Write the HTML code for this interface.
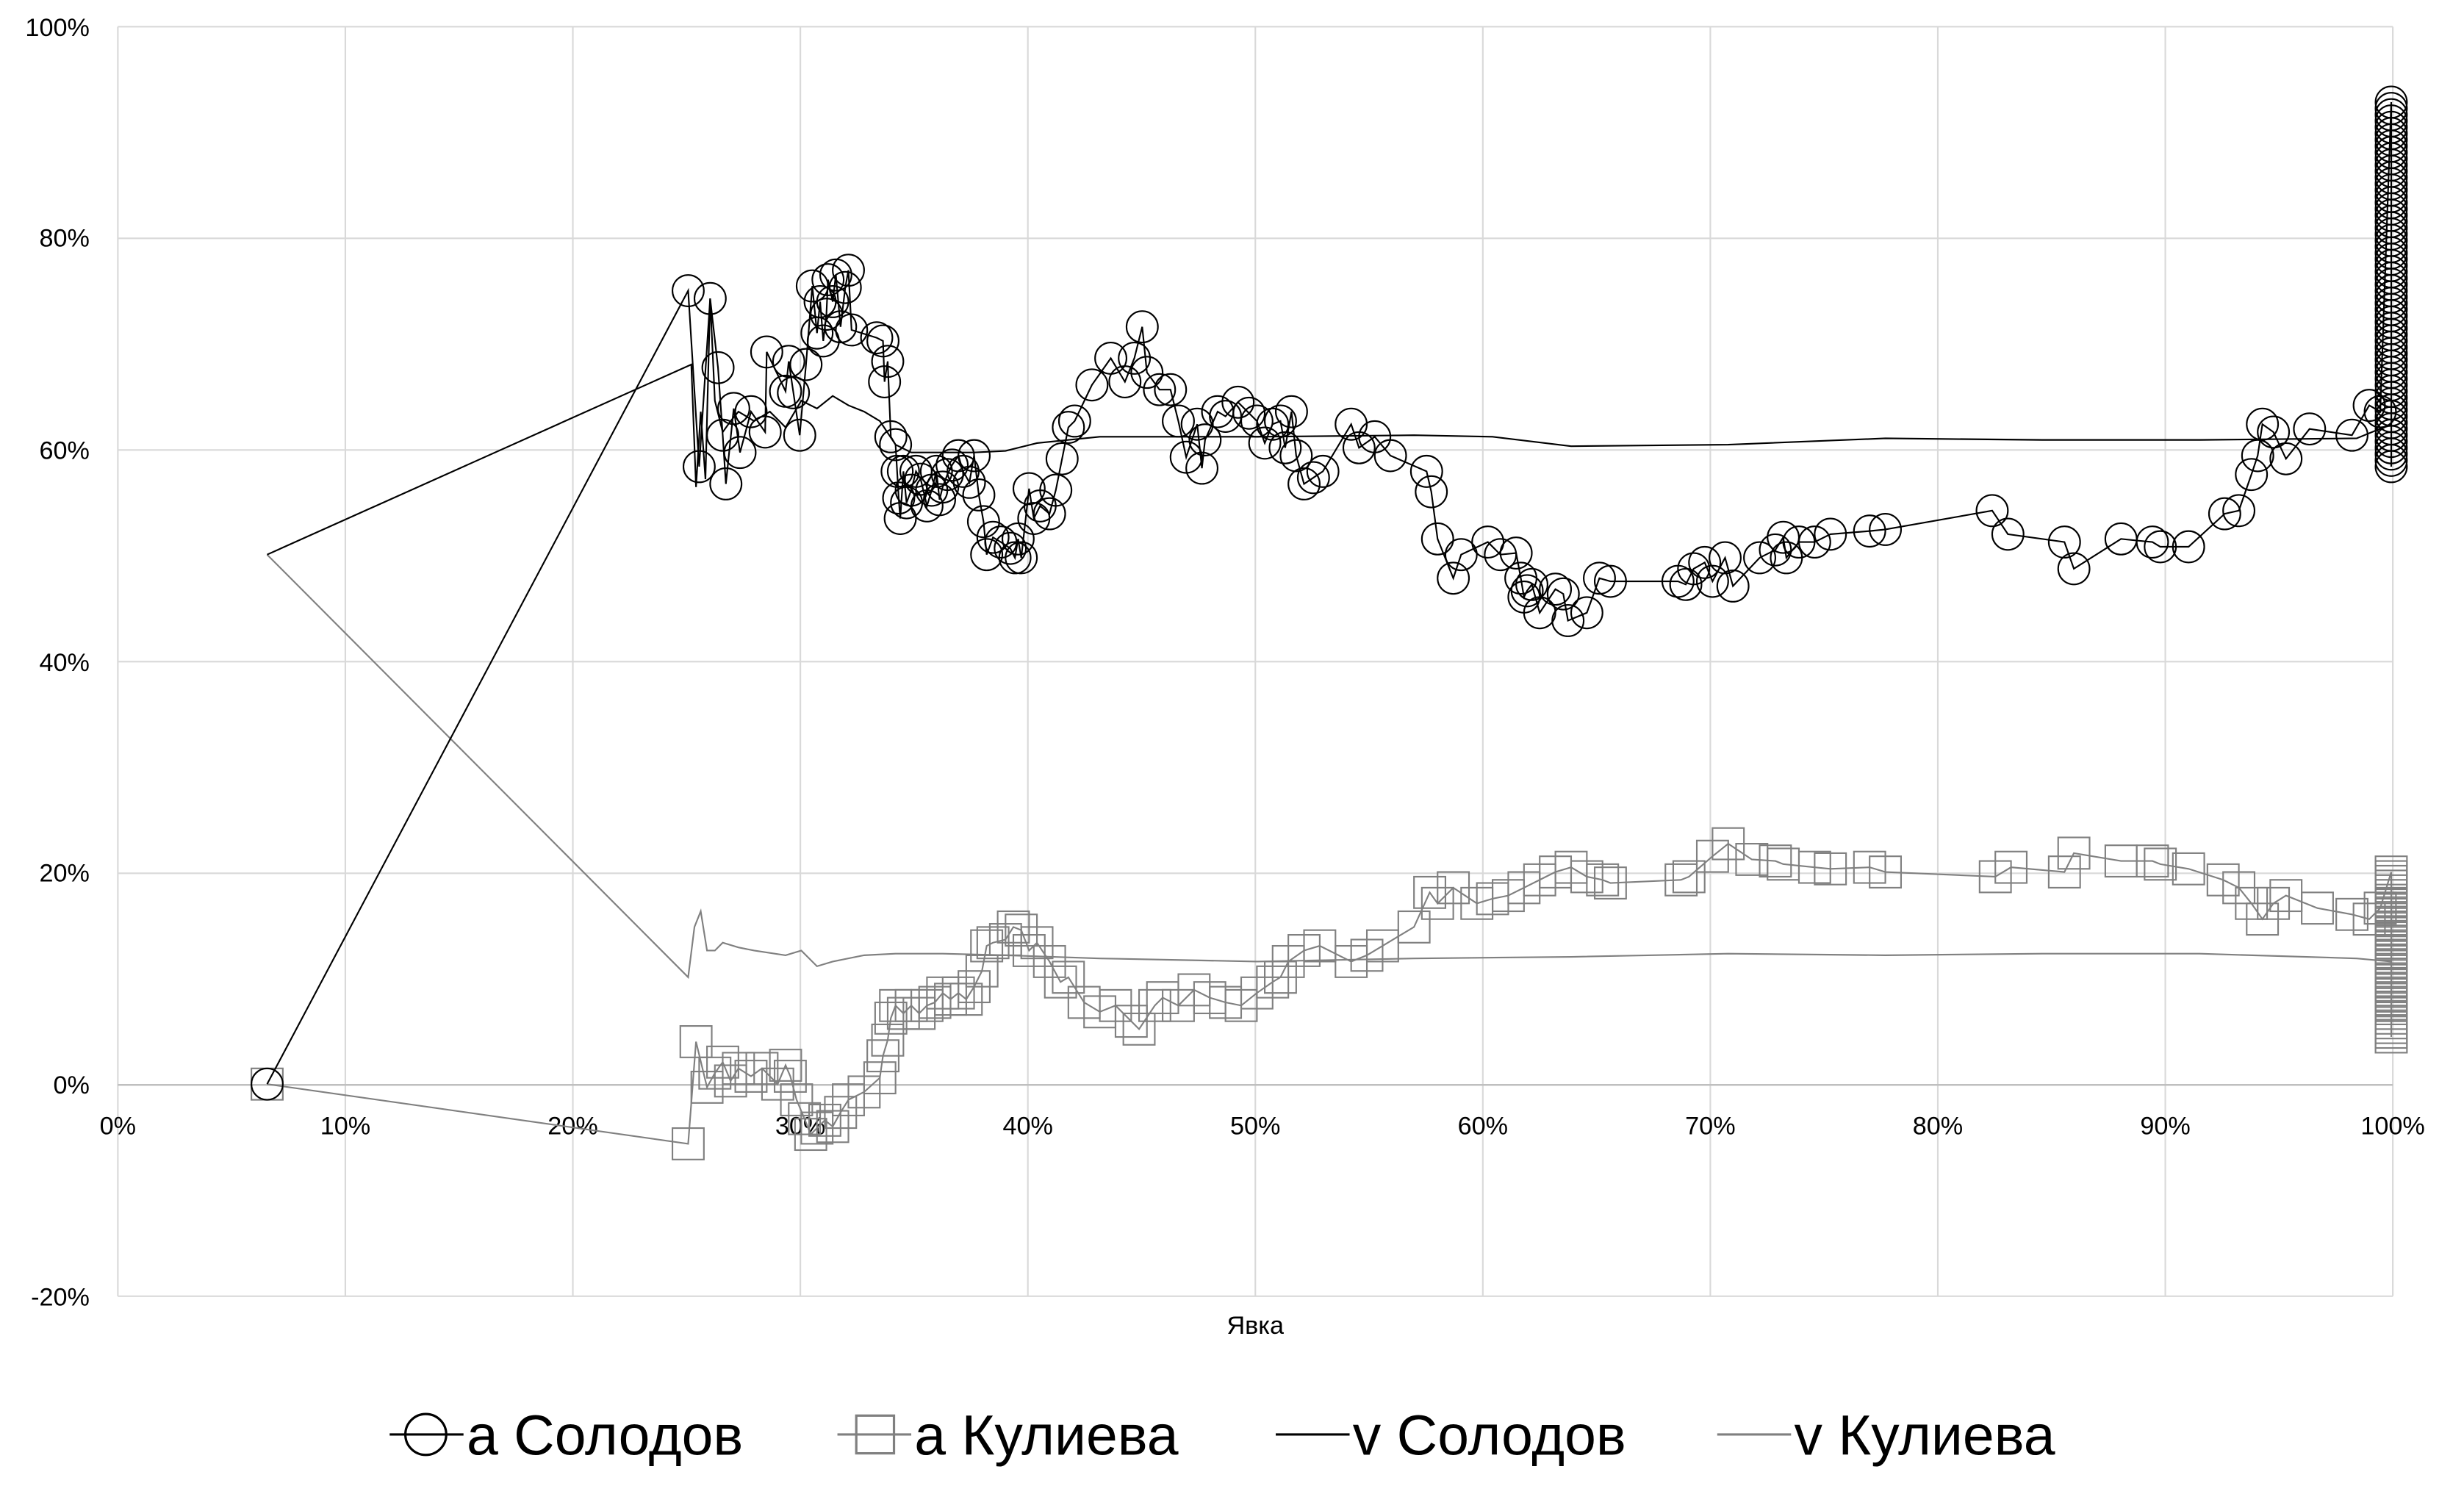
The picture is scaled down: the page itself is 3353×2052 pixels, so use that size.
<!DOCTYPE html>
<html><head><meta charset="utf-8"><style>
html,body{margin:0;padding:0;background:#fff}
svg{display:block}
text{font-family:"Liberation Sans",sans-serif}
</style></head><body>
<svg id="s" width="3353" height="2052" viewBox="0 0 1568.3 959.8" xmlns="http://www.w3.org/2000/svg">
<g stroke="#d9d9d9" stroke-width="1">
<line x1="75" y1="17" x2="1523" y2="17"/><line x1="75" y1="151.7" x2="1523" y2="151.7"/>
<line x1="75" y1="286.4" x2="1523" y2="286.4"/><line x1="75" y1="421.1" x2="1523" y2="421.1"/>
<line x1="75" y1="555.8" x2="1523" y2="555.8"/><line x1="75" y1="825" x2="1523" y2="825"/>
<line x1="219.8" y1="17" x2="219.8" y2="825"/><line x1="364.6" y1="17" x2="364.6" y2="825"/>
<line x1="509.4" y1="17" x2="509.4" y2="825"/><line x1="654.2" y1="17" x2="654.2" y2="825"/>
<line x1="799" y1="17" x2="799" y2="825"/><line x1="943.8" y1="17" x2="943.8" y2="825"/>
<line x1="1088.6" y1="17" x2="1088.6" y2="825"/><line x1="1233.4" y1="17" x2="1233.4" y2="825"/>
<line x1="1378.2" y1="17" x2="1378.2" y2="825"/><line x1="1523" y1="17" x2="1523" y2="825"/>
<line x1="75" y1="17" x2="75" y2="825"/>
</g>
<line x1="75" y1="690.5" x2="1523" y2="690.5" stroke="#bfbfbf" stroke-width="1.2"/>
<g font-size="16" fill="#000" text-anchor="end">
<text x="57" y="23">100%</text><text x="57" y="157">80%</text><text x="57" y="292">60%</text>
<text x="57" y="427">40%</text><text x="57" y="561">20%</text><text x="57" y="696">0%</text><text x="57" y="831">-20%</text>
</g>
<g font-size="16" fill="#000" text-anchor="middle">
<text x="75" y="722">0%</text><text x="219.8" y="722">10%</text><text x="364.6" y="722">20%</text>
<text x="509.4" y="722">30%</text><text x="654.2" y="722">40%</text><text x="799" y="722">50%</text>
<text x="943.8" y="722">60%</text><text x="1088.6" y="722">70%</text><text x="1233.4" y="722">80%</text>
<text x="1378.2" y="722">90%</text><text x="1523" y="722">100%</text>
<text x="799" y="849">Явка</text>
</g>
<g id="data"></g>
<g font-size="36" fill="#000">
<line x1="248" y1="913" x2="295" y2="913" stroke="#000" stroke-width="1.5"/><circle cx="271" cy="913" r="13" fill="none" stroke="#000" stroke-width="1.5"/>
<text x="297" y="926">a Солодов</text>
<line x1="533" y1="913" x2="580" y2="913" stroke="#808080" stroke-width="1.5"/><rect x="545" y="901" width="24" height="24" fill="none" stroke="#808080" stroke-width="1.5"/>
<text x="582" y="926">a Кулиева</text>
<line x1="812" y1="913" x2="859" y2="913" stroke="#000" stroke-width="1.5"/>
<text x="861" y="926">v Солодов</text>
<line x1="1093" y1="913" x2="1140" y2="913" stroke="#808080" stroke-width="1.5"/>
<text x="1142" y="926">v Кулиева</text>
</g>
</svg>
<script>
const NS="http://www.w3.org/2000/svg",g=document.getElementById('data');
function pl(pts,col,w){const p=document.createElementNS(NS,'polyline');p.setAttribute('points',pts.map(a=>a.join(',')).join(' '));p.setAttribute('fill','none');p.setAttribute('stroke',col);p.setAttribute('stroke-width',w);g.appendChild(p);}
const aS=[[170,690],[438,185],[445,297],[452,190],[457,234],[460,277],[462,308],[467,260],[471,288],[478,262],[487,275],[488,224],[500,249],[502,230],[505,250],[509,277],[513,232],[517,182],[520,212],[522,192],[524,217],[526,200],[527,178],[530,192],[532,175],[535,208],[538,183],[540,172],[542,210],[558,215],[562,217],[563,243],[565,230],[567,278],[570,283],[571,300],[572,317],[573,330],[575,300],[577,320],[580,312],[583,300],[586,305],[590,322],[593,312],[596,300],[598,318],[600,310],[603,302],[606,296],[610,290],[613,300],[617,307],[620,290],[623,315],[626,332],[628,353],[632,342],[637,345],[643,349],[646,355],[648,343],[650,355],[655,311],[658,330],[662,322],[668,327],[672,312],[676,292],[680,272],[684,268],[695,245],[707,228],[716,243],[722,228],[727,208],[730,237],[738,248],[745,248],[750,268],[755,291],[762,270],[765,298],[767,280],[775,262],[780,265],[788,256],[795,263],[800,268],[805,282],[810,270],[815,268],[818,285],[822,262],[825,290],[830,308],[836,304],[842,300],[860,270],[865,285],[875,278],[885,290],[908,300],[911,313],[915,343],[925,368],[930,353],[947,345],[955,353],[965,352],[968,368],[970,380],[972,376],[975,372],[980,390],[990,375],[995,378],[998,395],[1010,390],[1018,368],[1025,370],[1068,370],[1073,372],[1078,362],[1085,358],[1090,370],[1098,355],[1103,373],[1120,355],[1130,350],[1135,342],[1137,355],[1145,345],[1155,345],[1165,340],[1190,338],[1200,337],[1268,325],[1278,340],[1314,345],[1320,362],[1350,343],[1370,345],[1375,348],[1393,348],[1416,327],[1425,325],[1433,302],[1437,290],[1440,270],[1447,275],[1455,292],[1470,273],[1497,277],[1508,258],[1515,262]];
for(let y=65;y<=297;y+=4)aS.push([1522,y]);
const aK=[[170,690],[438,728],[443,663],[450,692],[455,683],[460,676],[465,688],[470,680],[478,685],[485,680],[495,690],[500,678],[503,685],[507,700],[512,712],[516,722],[520,718],[525,713],[530,717],[535,708],[540,700],[550,695],[560,686],[562,672],[565,662],[567,648],[570,640],[575,645],[580,640],[585,645],[590,640],[595,638],[600,632],[605,636],[610,632],[615,636],[620,628],[625,618],[628,602],[632,600],[640,598],[645,590],[650,592],[655,605],[660,600],[668,612],[675,625],[680,622],[690,638],[700,644],[710,640],[720,650],[725,655],[735,640],[740,635],[750,640],[760,630],[770,635],[780,638],[790,640],[800,632],[810,625],[815,622],[820,612],[830,605],[840,602],[860,612],[870,608],[880,602],[900,590],[910,568],[915,575],[925,565],[940,575],[950,572],[960,570],[970,565],[980,560],[990,555],[1000,552],[1010,558],[1020,560],[1025,562],[1070,560],[1075,558],[1090,545],[1100,537],[1115,547],[1130,548],[1135,550],[1155,552],[1165,553],[1190,552],[1200,555],[1270,558],[1280,552],[1314,555],[1320,543],[1350,548],[1370,548],[1375,550],[1393,553],[1415,560],[1425,565],[1433,575],[1440,585],[1447,575],[1455,570],[1475,578],[1497,582],[1508,585],[1515,578]];
for(let y=555;y<=660;y+=3)aK.push([1522,y]);
const vS=[[170,353],[440,232],[443,310],[446,262],[449,305],[452,190],[455,255],[460,275],[465,268],[470,262],[480,268],[490,262],[500,272],[510,255],[520,260],[530,252],[540,258],[550,262],[560,268],[570,283],[580,288],[600,288],[620,288],[640,287],[660,282],[700,278],[800,278],[900,277],[950,278],[1000,284],[1100,283],[1200,279],[1300,280],[1400,280],[1500,279],[1522,270]];
const vK=[[170,353],[438,622],[442,590],[446,580],[450,605],[455,605],[460,600],[470,603],[480,605],[500,608],[510,605],[520,615],[530,612],[550,608],[570,607],[600,607],[640,608],[700,610],[800,612],[900,610],[1000,609],[1100,607],[1200,608],[1300,607],[1400,607],[1500,610],[1522,612]];
pl(aK,'#808080',1);
aK.forEach(p=>{const r=document.createElementNS(NS,'rect');r.setAttribute('x',p[0]-10);r.setAttribute('y',p[1]-10);r.setAttribute('width',20);r.setAttribute('height',20);r.setAttribute('fill','none');r.setAttribute('stroke','#808080');r.setAttribute('stroke-width',1);g.appendChild(r);});
pl(vK,'#808080',1);
pl(aS,'#000',1);
aS.forEach(p=>{const c=document.createElementNS(NS,'circle');c.setAttribute('cx',p[0]);c.setAttribute('cy',p[1]);c.setAttribute('r',10);c.setAttribute('fill','none');c.setAttribute('stroke','#000');c.setAttribute('stroke-width',1);g.appendChild(c);});
pl(vS,'#000',1);
</script>
</body></html>
